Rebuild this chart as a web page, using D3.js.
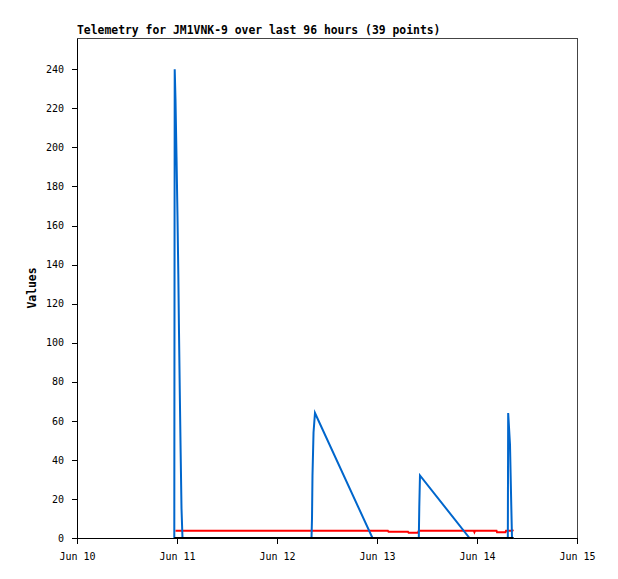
<!DOCTYPE html>
<html>
<head>
<meta charset="utf-8">
<script src="https://cdn.jsdelivr.net/npm/d3@7"></script>
<style>
  body { margin: 0; background: #fff; }
  text { font-family: "DejaVu Sans Mono", monospace; }
</style>
</head>
<body>
<div id="chart-area"></div>
<script>
// telemetry samples (local time)
const times = [
    "2024-06-10 23:21", "2024-06-10 23:27", "2024-06-10 23:38", "2024-06-10 23:53",
    "2024-06-11 00:07", "2024-06-11 00:19", "2024-06-11 00:29", "2024-06-11 00:40",
    "2024-06-11 00:52", "2024-06-11 01:05", "2024-06-11 01:19",
    "2024-06-12 08:17", "2024-06-12 08:24", "2024-06-12 08:31", "2024-06-12 08:46",
    "2024-06-12 09:07", "2024-06-12 22:55",
    "2024-06-13 02:36", "2024-06-13 02:46", "2024-06-13 07:26", "2024-06-13 07:35",
    "2024-06-13 09:50", "2024-06-13 10:02", "2024-06-13 10:09", "2024-06-13 10:19",
    "2024-06-13 22:12", "2024-06-13 23:15", "2024-06-13 23:23", "2024-06-13 23:31",
    "2024-06-14 04:41", "2024-06-14 04:48", "2024-06-14 06:50", "2024-06-14 06:58",
    "2024-06-14 07:24", "2024-06-14 07:29", "2024-06-14 07:55", "2024-06-14 08:14",
    "2024-06-14 08:24", "2024-06-14 08:46"
];
const blueValues = [
    0, 240, 225, 195, 165, 135, 105, 75, 45, 15, 0,
    0, 10, 32, 54, 64, 0,
    0, 0, 0, 0,
    0, 0, 16, 32,
    0, 0, 0, 0,
    0, 0, 0, 0,
    0, 64, 48, 16, 0, 0
];
const redValues = [
    null, null, 3.7, 3.7, 3.7, 3.7, 3.7, 3.7, 3.7, 3.7, 3.7,
    3.7, 3.7, 3.7, 3.7, 3.7, 3.7,
    3.7, 3.2, 3.2, 2.7,
    2.7, 3.7, 3.7, 3.7,
    3.7, 3.7, 3.0, 3.7,
    3.7, 3.0, 3.0, 3.7,
    3.7, 3.7, 3.7, 3.7, 3.7, 4.0
];
const blackValues = times.map(() => 0);
const yTicks = [0, 20, 40, 60, 80, 100, 120, 140, 160, 180, 200, 220, 240];

const MARGIN = { LEFT: 77, RIGHT: 41, TOP: 38, BOTTOM: 41 };
const WIDTH = 618 - MARGIN.LEFT - MARGIN.RIGHT;
const HEIGHT = 579 - MARGIN.TOP - MARGIN.BOTTOM;

const parse = d3.timeParse("%Y-%m-%d %H:%M");
const data = times.map((t, i) => ({
    date: parse(t),
    blue: blueValues[i],
    red: redValues[i],
    black: blackValues[i]
}));

const svg = d3.select("#chart-area").append("svg")
    .attr("width", 618)
    .attr("height", 579);

const g = svg.append("g")
    .attr("transform", `translate(${MARGIN.LEFT}, ${MARGIN.TOP})`);

const x = d3.scaleTime()
    .domain([parse("2024-06-10 00:00"), parse("2024-06-15 00:00")])
    .range([0, WIDTH]);

const y = d3.scaleLinear()
    .domain([0, 256])
    .range([HEIGHT, 0]);

// frame top / right
g.append("line")
    .attr("x1", 0).attr("x2", WIDTH).attr("y1", 0.5).attr("y2", 0.5)
    .attr("stroke", "#444");
g.append("line")
    .attr("x1", WIDTH + 0.5).attr("x2", WIDTH + 0.5).attr("y1", 0).attr("y2", HEIGHT)
    .attr("stroke", "#444");

// title
svg.append("text")
    .attr("x", MARGIN.LEFT)
    .attr("y", 34)
    .attr("font-size", "11.4px")
    .attr("font-weight", "bold")
    .text("Telemetry for JM1VNK-9 over last 96 hours (39 points)");

// y label
g.append("text")
    .attr("x", -(HEIGHT / 2))
    .attr("y", -41)
    .attr("font-size", "11.4px")
    .attr("font-weight", "bold")
    .attr("text-anchor", "middle")
    .attr("transform", "rotate(-90)")
    .text("Values");

// axes
const xAxisCall = d3.axisBottom(x)
    .ticks(d3.timeDay.every(1))
    .tickFormat(d3.timeFormat("%b %d"))
    .tickSize(6)
    .tickSizeOuter(0)
    .tickPadding(9);
const xAxis = g.append("g")
    .attr("transform", `translate(0, ${HEIGHT})`)
    .call(xAxisCall);

const yAxisCall = d3.axisLeft(y)
    .tickValues(yTicks)
    .tickSize(5)
    .tickSizeOuter(0)
    .tickPadding(8);
const yAxis = g.append("g").call(yAxisCall);

[xAxis, yAxis].forEach(a => {
    a.select(".domain").attr("stroke", "#000").attr("shape-rendering", "crispEdges");
    a.selectAll(".tick line").attr("stroke", "#000").attr("shape-rendering", "crispEdges");
    a.selectAll("text")
        .attr("font-family", "DejaVu Sans Mono, monospace")
        .attr("font-size", "10px")
        .attr("fill", "#000");
});

// series
const lineOf = key => d3.line()
    .defined(d => d[key] !== null)
    .x(d => x(d.date))
    .y(d => y(d[key]));

g.append("path")
    .datum(data)
    .attr("fill", "none")
    .attr("stroke", "#ff0000")
    .attr("stroke-width", 2)
    .attr("d", lineOf("red"));

g.append("path")
    .datum(data)
    .attr("fill", "none")
    .attr("stroke", "#0066cc")
    .attr("stroke-width", 2)
    .attr("d", lineOf("blue"));

g.append("path")
    .datum(data)
    .attr("fill", "none")
    .attr("stroke", "#000")
    .attr("stroke-width", 2)
    .attr("d", lineOf("black"));
</script>
</body>
</html>
